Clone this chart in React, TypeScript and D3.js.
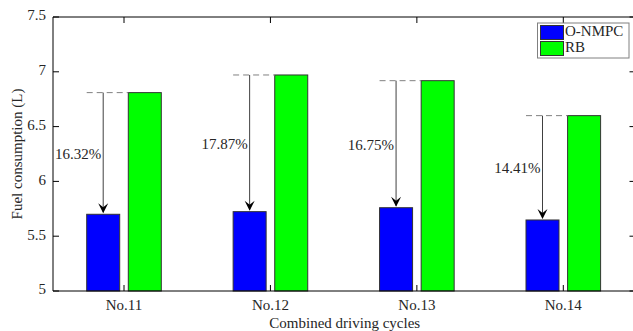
import React from "react";
import * as d3 from "d3";

const categories = ["No.11", "No.12", "No.13", "No.14"];
const onmpc = [5.70, 5.724, 5.76, 5.648];
const rb = [6.81, 6.971, 6.919, 6.60];
const savings = ["16.32%", "17.87%", "16.75%", "14.41%"];
const yTicks = [5, 5.5, 6, 6.5, 7, 7.5];
const seriesNames = ["O-NMPC", "RB"];
const seriesColors = ["#0000ff", "#00ff00"];

const W = 633;
const H = 331;
const left = 53;
const right = 636.5;
const top = 17;
const bottom = 291;
const font = "'Liberation Serif', 'Times New Roman', serif";

export default function App() {
  const x = d3.scaleLinear().domain([0, 3]).range([124, 563.3]);
  const y = d3.scaleLinear().domain([5, 7.5]).range([bottom, top]);
  const barW = 33;
  const gap = 4.3;
  const tickLen = 6;
  const txt = "#262626";

  return (
    <svg
      width={W}
      height={H}
      style={{ position: "absolute", left: 0, top: 0, background: "#fff" }}
      fontFamily={font}
    >
      {categories.map((c, i) => {
        const cx = x(i);
        return (
          <g key={c}>
            <rect
              x={cx - gap - barW}
              y={y(onmpc[i])}
              width={barW}
              height={y(5) - y(onmpc[i])}
              fill={seriesColors[0]}
              stroke="#333"
              strokeWidth={1}
            />
            <rect
              x={cx + gap}
              y={y(rb[i])}
              width={barW}
              height={y(5) - y(rb[i])}
              fill={seriesColors[1]}
              stroke="#333"
              strokeWidth={1}
            />
          </g>
        );
      })}

      {categories.map((c, i) => {
        const cx = x(i);
        const bx0 = cx - gap - barW;
        const ax = bx0 + barW / 2;
        const yTop = y(rb[i]);
        const yBot = y(onmpc[i]);
        const mid = (yTop + yBot) / 2 + 2;
        return (
          <g key={"a" + c}>
            <line
              x1={bx0}
              x2={cx + gap}
              y1={yTop}
              y2={yTop}
              stroke="#808080"
              strokeWidth={1}
              strokeDasharray="6,4"
            />
            <line x1={ax} x2={ax} y1={yTop} y2={yBot - 2} stroke="#404040" strokeWidth={1} />
            <path
              d={`M${ax - 5},${yBot - 11} L${ax},${yBot - 1} L${ax + 5},${yBot - 11} L${ax},${yBot - 7} Z`}
              fill="#000"
            />
            <text
              x={ax - 2}
              y={mid}
              textAnchor="end"
              dominantBaseline="middle"
              fontSize={15}
              fill={txt}
            >
              {savings[i]}
            </text>
          </g>
        );
      })}

      <line x1={left} x2={right} y1={bottom} y2={bottom} stroke="#000" />
      <line x1={left} x2={right} y1={top} y2={top} stroke="#000" />
      <line x1={left} x2={left} y1={top} y2={bottom} stroke="#000" />
      <line x1={right - 1} x2={right - 1} y1={top} y2={bottom} stroke="#000" />

      {yTicks.map((t) => (
        <g key={"y" + t}>
          <line x1={left} x2={left + tickLen} y1={y(t)} y2={y(t)} stroke="#000" />
          <line x1={right - 1} x2={right - 1 - tickLen} y1={y(t)} y2={y(t)} stroke="#000" />
          <text
            x={left - 7}
            y={y(t)}
            textAnchor="end"
            dominantBaseline="middle"
            fontSize={15}
            fill={txt}
          >
            {String(t)}
          </text>
        </g>
      ))}

      {categories.map((c, i) => (
        <g key={"x" + c}>
          <line x1={x(i)} x2={x(i)} y1={bottom} y2={bottom - tickLen} stroke="#000" />
          <line x1={x(i)} x2={x(i)} y1={top} y2={top + tickLen} stroke="#000" />
          <text x={x(i)} y={307} textAnchor="middle" dominantBaseline="middle" fontSize={15} fill={txt}>
            {c}
          </text>
        </g>
      ))}

      <text
        x={(left + right) / 2}
        y={324.5}
        textAnchor="middle"
        dominantBaseline="middle"
        fontSize={15}
        fill={txt}
      >
        Combined driving cycles
      </text>
      <text
        transform={`translate(19,${(top + bottom) / 2}) rotate(-90)`}
        textAnchor="middle"
        dominantBaseline="middle"
        fontSize={15}
        fill={txt}
      >
        Fuel consumption (L)
      </text>

      <g>
        <rect x={537.5} y={23} width={91.5} height={35} fill="#fff" stroke="#808080" strokeWidth={1} />
        {seriesNames.map((s, i) => (
          <g key={s}>
            <rect
              x={540.5}
              y={25.5 + i * 16}
              width={23}
              height={14}
              fill={seriesColors[i]}
              stroke="#333"
              strokeWidth={1}
            />
            <text
              x={565}
              y={32.5 + i * 16}
              dominantBaseline="middle"
              fontSize={15}
              fill={txt}
            >
              {s}
            </text>
          </g>
        ))}
      </g>
    </svg>
  );
}
